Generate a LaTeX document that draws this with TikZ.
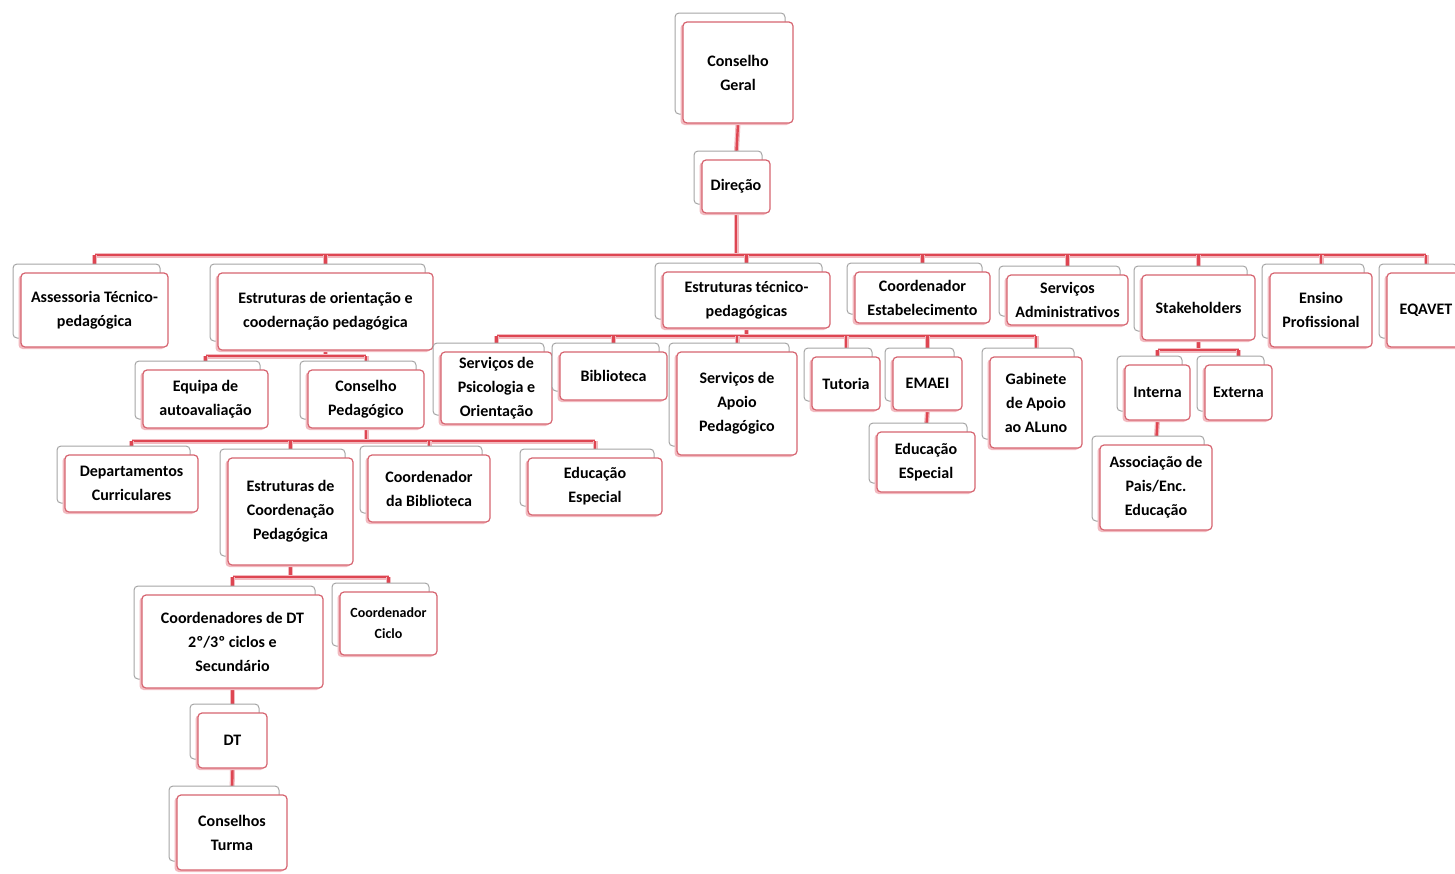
\documentclass[tikz,border=0pt]{standalone}
\usepackage{fontspec}
\setmainfont{Carlito}
\usetikzlibrary{shadows}
\definecolor{lnred}{RGB}{222,70,82}
\definecolor{bxred}{RGB}{214,100,112}
\definecolor{pinksh}{RGB}{242,186,192}
\definecolor{backgr}{RGB}{165,165,165}
\pgfdeclarelayer{bg}
\pgfsetlayers{bg,main}
\tikzset{
  orgbox/.style={draw=bxred, fill=white, line width=1.2pt, rounded corners=4pt,
    align=center, inner sep=0pt, font=\fontsize{16}{24}\selectfont\bfseries,
    general shadow={shadow xshift=-8pt, shadow yshift=9pt, fill=white, draw=backgr, line width=1pt},
    general shadow={shadow xshift=-2.5pt, shadow yshift=-2pt, fill=pinksh, draw=none}},
  conn/.style={draw=lnred, line width=2.4pt, preaction={draw=pinksh, line width=5pt}},
}
\newcommand{\orgnode}[7][]{%
  \node[orgbox,#1,minimum width={#5-#3},minimum height={#6-#4}] (#2) at ({(#3+#5)/2},{(#4+#6)/2}) {#7};}
\begin{document}
\begin{tikzpicture}[x=1pt,y=-1pt]
\useasboundingbox (0,0) rectangle (1455,873);
% level 0-1
\orgnode{cg}{683}{22}{793}{123}{Conselho\\Geral}
\orgnode{dir}{702}{160}{770}{213}{Direção}
% level 2
\orgnode{ass}{21}{273}{168}{347}{Assessoria Técnico-\\pedagógica}
\orgnode{eoc}{218}{273}{433}{350}{Estruturas de orientação e\\coodernação pedagógica}
\orgnode{etp}{663}{272}{830}{328}{Estruturas técnico-\\pedagógicas}
\orgnode{cest}{855}{272}{990}{323}{Coordenador\\Estabelecimento}
\orgnode{sadm}{1007}{275}{1128}{325}{Serviços\\Administrativos}
\orgnode{stk}{1142}{275}{1255}{340}{Stakeholders}
\orgnode{ens}{1270}{273}{1372}{347}{Ensino\\Profissional}
\orgnode{eqa}{1387}{273}{1465}{347}{EQAVET}
% level 3
\orgnode{eqp}{143}{370}{268}{428}{Equipa de\\autoavaliação}
\orgnode{cped}{308}{370}{424}{428}{Conselho\\Pedagógico}
\orgnode{spo}{441}{352}{552}{424}{Serviços de\\Psicologia e\\Orientação}
\orgnode{bib}{560}{352}{667}{400}{Biblioteca}
\orgnode{sap}{677}{352}{797}{455}{Serviços de\\Apoio\\Pedagógico}
\orgnode{tut}{812}{357}{880}{410}{Tutoria}
\orgnode{emaei}{893}{357}{962}{410}{EMAEI}
\orgnode{gab}{990}{357}{1082}{448}{Gabinete\\de Apoio\\ao ALuno}
\orgnode{ees}{877}{432}{975}{492}{Educação\\ESpecial}
\orgnode{int}{1125}{365}{1190}{420}{Interna}
\orgnode{ext}{1205}{365}{1272}{420}{Externa}
\orgnode{ape}{1100}{445}{1212}{530}{Associação de\\Pais/Enc.\\Educação}
% level 4
\orgnode{dep}{65}{455}{198}{512}{Departamentos\\Curriculares}
\orgnode{ecp}{228}{458}{353}{565}{Estruturas de\\Coordenação\\Pedagógica}
\orgnode{cbib}{368}{455}{490}{522}{Coordenador\\da Biblioteca}
\orgnode{edesp}{528}{458}{662}{515}{Educação\\Especial}
\orgnode{cdt}{142}{595}{323}{688}{Coordenadores de DT\\2º/3º ciclos e\\Secundário}
\orgnode[font=\fontsize{14}{21}\selectfont\bfseries]{cci}{340}{592}{437}{655}{Coordenador\\Ciclo}
\orgnode{dt}{198}{713}{267}{768}{DT}
\orgnode{ctu}{177}{795}{287}{870}{Conselhos\\Turma}
% bus coordinates
\coordinate (b0) at (0,255);
\coordinate (b1) at (0,356);
\coordinate (b2) at (0,336);
\coordinate (b3) at (0,441);
\coordinate (b4) at (0,577);
\coordinate (b5) at (0,350);
\begin{pgfonlayer}{bg}
\draw[conn] (cg.south) -- (dir.north);
\draw[conn] (dir.south) -- (dir.south |- b0);
\draw[conn] (ass.north |- b0) -- (eqa.north |- b0);
\foreach \c in {ass,eoc,etp,cest,sadm,stk,ens,eqa} \draw[conn] (\c.north |- b0) -- (\c.north);
\draw[conn] (eoc.south) -- (eoc.south |- b1);
\draw[conn] (eqp.north |- b1) -- (cped.north |- b1);
\foreach \c in {eqp,cped} \draw[conn] (\c.north |- b1) -- (\c.north);
\draw[conn] (etp.south) -- (etp.south |- b2);
\draw[conn] (spo.north |- b2) -- (gab.north |- b2);
\foreach \c in {spo,bib,sap,tut,emaei,gab} \draw[conn] (\c.north |- b2) -- (\c.north);
\draw[conn] (emaei.south) -- (ees.north);
\draw[conn] (stk.south) -- (stk.south |- b5);
\draw[conn] (int.north |- b5) -- (ext.north |- b5);
\foreach \c in {int,ext} \draw[conn] (\c.north |- b5) -- (\c.north);
\draw[conn] (int.south) -- (ape.north);
\draw[conn] (cped.south) -- (cped.south |- b3);
\draw[conn] (dep.north |- b3) -- (edesp.north |- b3);
\foreach \c in {dep,ecp,cbib,edesp} \draw[conn] (\c.north |- b3) -- (\c.north);
\draw[conn] (ecp.south) -- (ecp.south |- b4);
\draw[conn] (cdt.north |- b4) -- (cci.north |- b4);
\foreach \c in {cdt,cci} \draw[conn] (\c.north |- b4) -- (\c.north);
\draw[conn] (cdt.south) -- (dt.north);
\draw[conn] (dt.south) -- (ctu.north);
\end{pgfonlayer}
\end{tikzpicture}
\end{document}
